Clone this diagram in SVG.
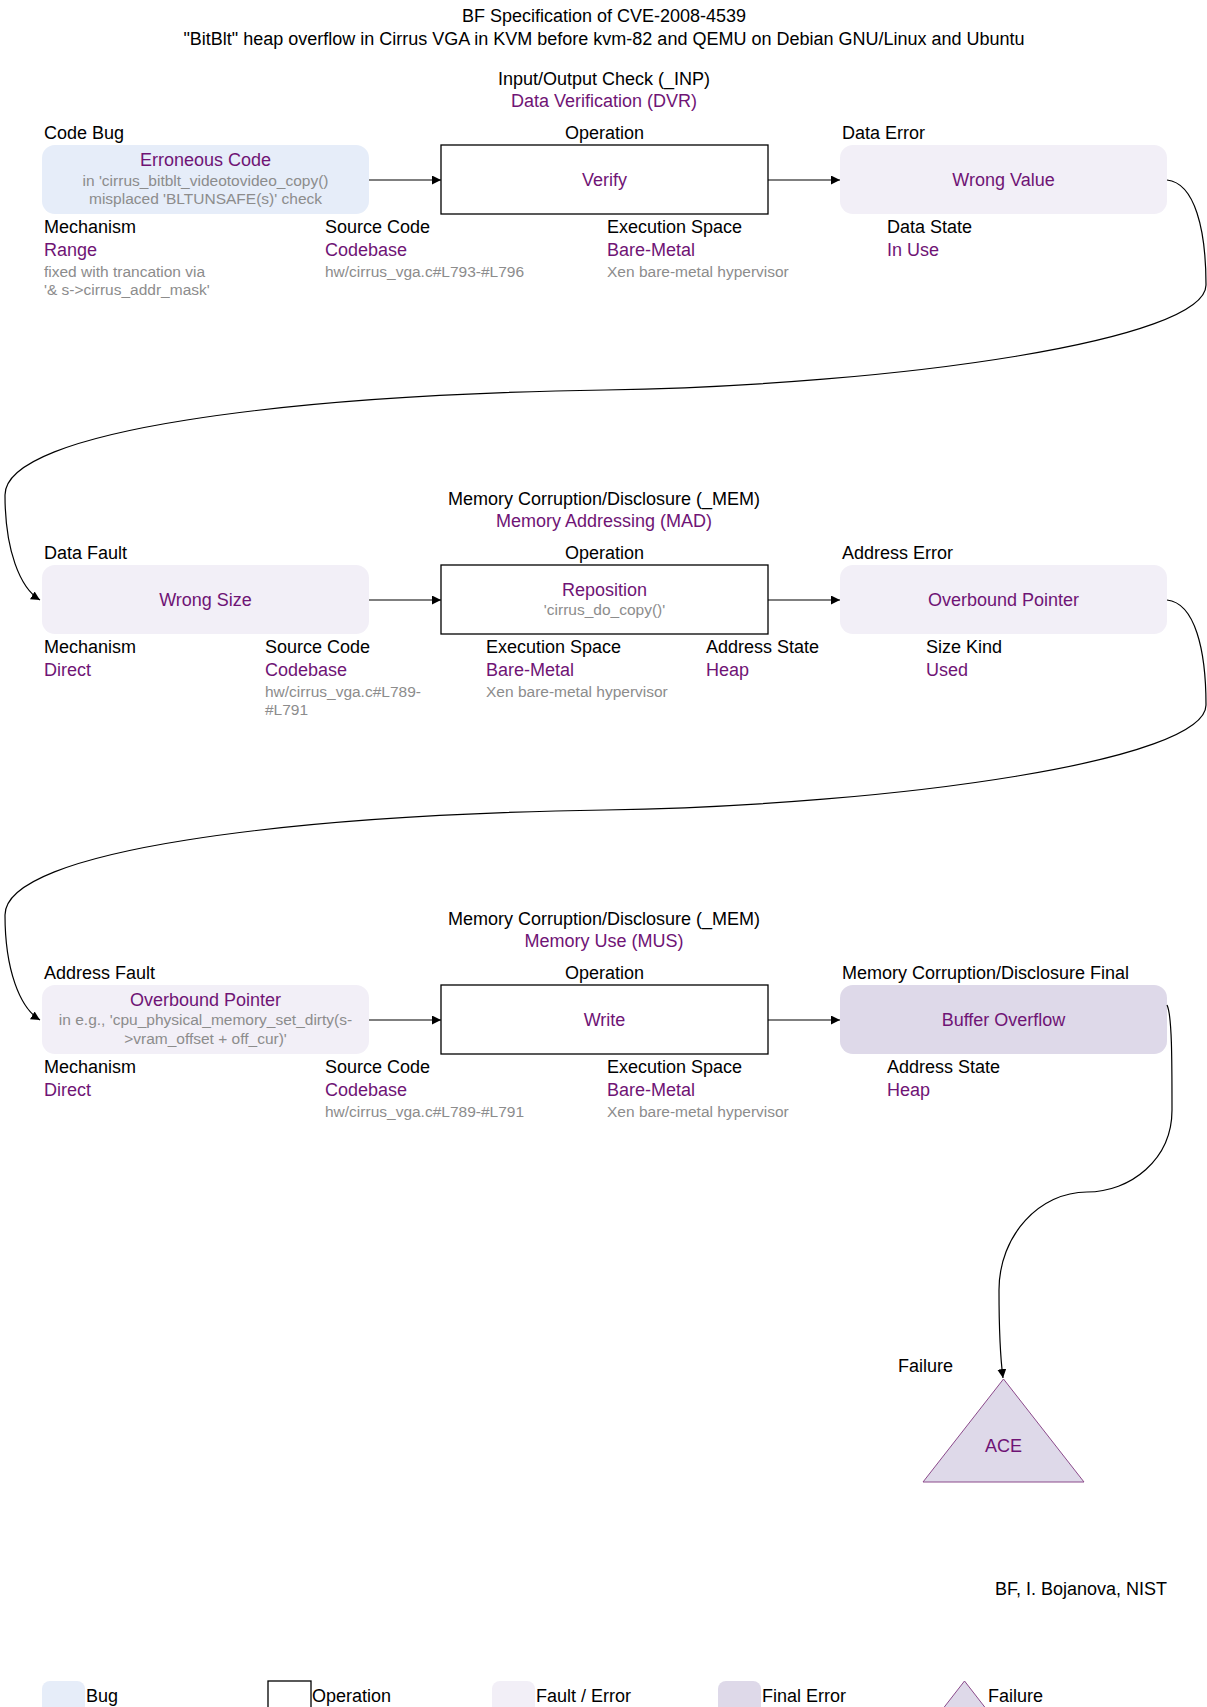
<svg xmlns="http://www.w3.org/2000/svg" width="1207" height="1707" viewBox="0 0 1207 1707">
<defs>
<marker id="arr" viewBox="0 0 10 10" refX="10" refY="5" markerWidth="9" markerHeight="9" markerUnits="userSpaceOnUse" orient="auto">
<path d="M0,0 L10,5 L0,10 z" fill="#000"/>
</marker>
<style>
text{font-family:"Liberation Sans",Arial,sans-serif;font-size:18px;fill:#000}
.p{fill:#6F1475}
.g{fill:#8C8C8C;font-size:15.5px}
.c{text-anchor:middle}
.bug{fill:#E6EDF9}
.flt{fill:#F2EFF7}
.fin{fill:#DED9E9}
.op{fill:#fff;stroke:#000;stroke-width:1.3}
.tri{fill:#DED9E9;stroke:#8B4A8B;stroke-width:1}
.e{fill:none;stroke:#000;stroke-width:1.2}
</style>
</defs>
<rect width="1207" height="1707" fill="#fff"/>

<g id="title">
<text x="604" y="22" class="c">BF Specification of CVE-2008-4539</text>
<text x="604" y="45" class="c">"BitBlt" heap overflow in Cirrus VGA in KVM before kvm-82 and QEMU on Debian GNU/Linux and Ubuntu</text>
</g>

<!-- Row 1 -->
<g id="class1">
<text x="604" y="85" class="c">Input/Output Check (_INP)</text>
<text x="604" y="107" class="c p">Data Verification (DVR)</text>
</g>
<g id="n1">
<text x="44" y="139">Code Bug</text>
<rect x="42" y="145" width="327" height="69" rx="13" class="bug"/>
<text x="205.5" y="166" class="c p">Erroneous Code</text>
<text x="205.5" y="186" class="c g">in 'cirrus_bitblt_videotovideo_copy()</text>
<text x="205.5" y="204" class="c g">misplaced 'BLTUNSAFE(s)' check</text>
<text x="44" y="233">Mechanism</text>
<text x="44" y="256" class="p">Range</text>
<text x="44" y="277" class="g">fixed with trancation via</text>
<text x="44" y="295" class="g">'&amp; s-&gt;cirrus_addr_mask'</text>
<text x="325" y="233">Source Code</text>
<text x="325" y="256" class="p">Codebase</text>
<text x="325" y="277" class="g">hw/cirrus_vga.c#L793-#L796</text>
</g>
<g id="n2">
<text x="604.5" y="139" class="c">Operation</text>
<rect x="441" y="145" width="327" height="69" class="op"/>
<text x="604.5" y="186" class="c p">Verify</text>
<text x="607" y="233">Execution Space</text>
<text x="607" y="256" class="p">Bare-Metal</text>
<text x="607" y="277" class="g">Xen bare-metal hypervisor</text>
</g>
<g id="n3">
<text x="842" y="139">Data Error</text>
<rect x="840" y="145" width="327" height="69" rx="13" class="flt"/>
<text x="1003.5" y="186" class="c p">Wrong Value</text>
<text x="887" y="233">Data State</text>
<text x="887" y="256" class="p">In Use</text>
</g>

<!-- Row 2 -->
<g id="class2">
<text x="604" y="505" class="c">Memory Corruption/Disclosure (_MEM)</text>
<text x="604" y="527" class="c p">Memory Addressing (MAD)</text>
</g>
<g id="n4">
<text x="44" y="559">Data Fault</text>
<rect x="42" y="565" width="327" height="69" rx="13" class="flt"/>
<text x="205.5" y="606" class="c p">Wrong Size</text>
<text x="44" y="653">Mechanism</text>
<text x="44" y="676" class="p">Direct</text>
<text x="265" y="653">Source Code</text>
<text x="265" y="676" class="p">Codebase</text>
<text x="265" y="697" class="g">hw/cirrus_vga.c#L789-</text>
<text x="265" y="715" class="g">#L791</text>
</g>
<g id="n5">
<text x="604.5" y="559" class="c">Operation</text>
<rect x="441" y="565" width="327" height="69" class="op"/>
<text x="604.5" y="596" class="c p">Reposition</text>
<text x="604.5" y="615" class="c g">'cirrus_do_copy()'</text>
<text x="486" y="653">Execution Space</text>
<text x="486" y="676" class="p">Bare-Metal</text>
<text x="486" y="697" class="g">Xen bare-metal hypervisor</text>
<text x="706" y="653">Address State</text>
<text x="706" y="676" class="p">Heap</text>
</g>
<g id="n6">
<text x="842" y="559">Address Error</text>
<rect x="840" y="565" width="327" height="69" rx="13" class="flt"/>
<text x="1003.5" y="606" class="c p">Overbound Pointer</text>
<text x="926" y="653">Size Kind</text>
<text x="926" y="676" class="p">Used</text>
</g>

<!-- Row 3 -->
<g id="class3">
<text x="604" y="925" class="c">Memory Corruption/Disclosure (_MEM)</text>
<text x="604" y="947" class="c p">Memory Use (MUS)</text>
</g>
<g id="n7">
<text x="44" y="979">Address Fault</text>
<rect x="42" y="985" width="327" height="69" rx="13" class="flt"/>
<text x="205.5" y="1006" class="c p">Overbound Pointer</text>
<text x="205.5" y="1025" class="c g">in e.g., 'cpu_physical_memory_set_dirty(s-</text>
<text x="205.5" y="1044" class="c g">&gt;vram_offset + off_cur)'</text>
<text x="44" y="1073">Mechanism</text>
<text x="44" y="1096" class="p">Direct</text>
<text x="325" y="1073">Source Code</text>
<text x="325" y="1096" class="p">Codebase</text>
<text x="325" y="1117" class="g">hw/cirrus_vga.c#L789-#L791</text>
</g>
<g id="n8">
<text x="604.5" y="979" class="c">Operation</text>
<rect x="441" y="985" width="327" height="69" class="op"/>
<text x="604.5" y="1026" class="c p">Write</text>
<text x="607" y="1073">Execution Space</text>
<text x="607" y="1096" class="p">Bare-Metal</text>
<text x="607" y="1117" class="g">Xen bare-metal hypervisor</text>
</g>
<g id="n9">
<text x="842" y="979">Memory Corruption/Disclosure Final</text>
<rect x="840" y="985" width="327" height="69" rx="13" class="fin"/>
<text x="1003.5" y="1026" class="c p">Buffer Overflow</text>
<text x="887" y="1073">Address State</text>
<text x="887" y="1096" class="p">Heap</text>
</g>

<g id="n10">
<text x="898" y="1372">Failure</text>
<polygon points="1003.5,1379 923,1482 1084,1482" class="tri"/>
<text x="1003.5" y="1452" class="c p">ACE</text>
</g>

<g id="connectors">
<line x1="369" y1="180" x2="441" y2="180" class="e" marker-end="url(#arr)"/>
<line x1="768" y1="180" x2="840" y2="180" class="e" marker-end="url(#arr)"/>
<path d="M1167,180 C1195,183 1206,230 1206,285 C1206,340 900,385 605,390 C290,395 5,430 5,495 C5,550 20,588 40,600" class="e" marker-end="url(#arr)"/>
<line x1="369" y1="600" x2="441" y2="600" class="e" marker-end="url(#arr)"/>
<line x1="768" y1="600" x2="840" y2="600" class="e" marker-end="url(#arr)"/>
<path d="M1167,600 C1195,603 1206,650 1206,705 C1206,760 900,805 605,810 C290,815 5,850 5,915 C5,970 20,1008 40,1020" class="e" marker-end="url(#arr)"/>
<line x1="369" y1="1020" x2="441" y2="1020" class="e" marker-end="url(#arr)"/>
<line x1="768" y1="1020" x2="840" y2="1020" class="e" marker-end="url(#arr)"/>
<path d="M1167,1005 C1172,1015 1172,1060 1172,1110 C1172,1160 1130,1192 1087,1192 C1040,1192 999,1235 999,1290 C999,1330 1000,1355 1003,1378" class="e" marker-end="url(#arr)"/>
</g>

<g id="credit">
<text x="1167" y="1595" style="text-anchor:end">BF, I. Bojanova, NIST</text>
</g>

<g id="legend">
<rect x="42" y="1681" width="43" height="43" rx="8" class="bug"/>
<text x="86" y="1702">Bug</text>
<rect x="268" y="1681" width="43" height="43" class="op"/>
<text x="312" y="1702">Operation</text>
<rect x="492" y="1681" width="43" height="43" rx="8" class="flt"/>
<text x="536" y="1702">Fault / Error</text>
<rect x="718" y="1681" width="43" height="43" rx="8" class="fin"/>
<text x="762" y="1702">Final Error</text>
<polygon points="964.5,1681 921,1737 1008,1737" class="tri"/>
<text x="988" y="1702">Failure</text>
</g>
</svg>
